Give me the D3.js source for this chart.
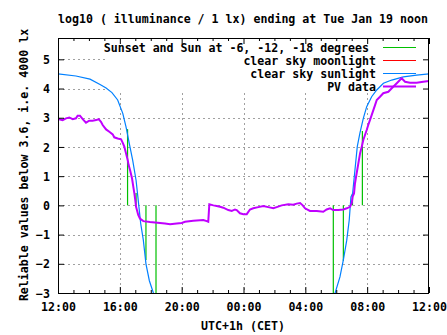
<!DOCTYPE html>
<html><head><meta charset="utf-8">
<script src="https://cdn.jsdelivr.net/npm/d3@7"></script>
<style>
body{margin:0;background:#fff}
svg{display:block}
text{font-family:"DejaVu Sans Mono","Liberation Mono",monospace;font-weight:bold;font-size:11.6px;fill:#000}
</style>
</head><body>
<svg id="c" width="447" height="335"></svg>
<script>
// ---- data (hours after 12:00 noon of the previous day) ----
const xTickHours = [0, 4, 8, 12, 16, 20, 24];
const xTickLabels = ["12:00", "16:00", "20:00", "00:00", "04:00", "08:00", "12:00"];
const yTicks = [-3, -2, -1, 0, 1, 2, 3, 4, 5];

// clear sky sunlight
const sunHours  = [0, 1.16, 2.07, 2.72, 3.11, 3.49, 3.86, 4.19, 4.40, 4.61, 4.83, 5.05, 5.14, 5.35, 5.52, 5.69, 5.91, 6.17, 6.40,
                   17.60, 17.92, 18.24, 18.46, 18.68, 18.84, 18.95, 19.06, 19.21, 19.36, 19.53, 19.75, 19.97, 20.29, 20.62, 21.05, 21.59, 22.34, 23.20, 24.0];
const sunValues = [4.50, 4.43, 4.32, 4.14, 4.02, 3.86, 3.61, 3.15, 2.69, 2.12, 1.55, 0.86, 0.42, -0.62, -1.19, -2.0, -2.58, -3.0, -3.6,
                   -3.7, -3.01, -2.45, -1.87, -1.19, -0.50, 0.29, 0.41, 1.21, 2.01, 2.47, 2.98, 3.38, 3.72, 3.95, 4.18, 4.29, 4.40, 4.46, 4.50];
// split between evening and morning (sun below range at night)
const sunBreakIndex = 19;

// clear sky moonlight (nothing inside the plotted range)
const moonHours = [];
const moonValues = [];

// sunset and sun at -6, -12, -18 degrees (impulses from 0)
const eventHours  = [4.50, 5.05, 5.69, 6.34, 17.81, 18.46, 19.05, 19.69];
const eventValues = [2.61, 0.42, -1.87, -3.5, -3.5, -1.90, 0.40, 2.55];

// PV data
const pvHours = [0.00, 0.08, 0.30, 0.52, 0.73, 0.95, 1.16, 1.27, 1.42, 1.60, 1.81, 2.02, 2.24, 2.46, 2.63, 2.78, 2.89, 3.11, 3.32, 3.54,
  3.64, 3.86, 4.08, 4.19, 4.29, 4.40, 4.51, 4.57, 4.66, 4.79, 4.87, 4.94, 5.00, 5.05, 5.19, 5.30, 5.52, 5.95, 6.60, 6.92,
  7.25, 7.68, 8.00, 8.22, 8.75, 9.40, 9.62, 9.72, 9.79, 10.05, 10.27, 10.48, 10.69, 11.02, 11.24, 11.45, 11.56, 11.77, 11.99, 12.21,
  12.42, 12.63, 12.96, 13.28, 13.60, 13.93, 14.15, 14.47, 14.90, 15.22, 15.44, 15.66, 15.83, 15.98, 16.30, 16.74, 17.16, 17.38, 17.60, 17.81,
  18.13, 18.46, 18.68, 18.89, 19.00, 19.06, 19.15, 19.21, 19.32, 19.43, 19.54, 19.65, 19.75, 19.86, 19.97, 20.07, 20.18, 20.29, 20.40, 20.51,
  20.62, 20.83, 21.04, 21.37, 21.59, 21.80, 22.01, 22.23, 22.45, 22.77, 23.20, 23.63, 24.00];
const pvValues = [2.97, 2.95, 2.92, 2.98, 3.01, 2.95, 2.98, 3.07, 3.07, 2.95, 2.83, 2.90, 2.90, 2.92, 2.95, 2.86, 2.75, 2.60, 2.52, 2.43,
  2.33, 2.29, 2.26, 2.14, 2.01, 1.78, 1.55, 1.38, 1.21, 0.92, 0.64, 0.41, 0.18, -0.05, -0.33, -0.45, -0.54, -0.57, -0.60, -0.62,
  -0.65, -0.62, -0.60, -0.56, -0.53, -0.50, -0.54, -0.56, 0.04, 0.00, -0.02, -0.05, -0.08, -0.16, -0.19, -0.14, -0.16, -0.27, -0.30, -0.30,
  -0.14, -0.10, -0.06, -0.02, -0.06, -0.10, -0.06, 0.00, 0.04, 0.02, 0.06, 0.08, 0.00, -0.10, -0.19, -0.19, -0.22, -0.14, -0.10, -0.16,
  -0.16, -0.14, -0.10, -0.05, 0.07, 0.30, 0.41, 0.75, 1.10, 1.44, 1.78, 2.01, 2.24, 2.41, 2.58, 2.75, 2.92, 3.09, 3.26, 3.43,
  3.61, 3.72, 3.84, 3.89, 4.01, 4.12, 4.23, 4.35, 4.23, 4.20, 4.20, 4.23, 4.26];

const legendLabels = ["Sunset and Sun at -6, -12, -18 degrees ", "clear sky moonlight", "clear sky sunlight", "PV data"];
const colors = {event: "#00c000", moon: "#ff0000", sun: "#0080ff", pv: "#c000ff"};

// ---- layout ----
const L = 58, R = 429, T = 38, B = 293;
const svg = d3.select("#c");
const x = d3.scaleLinear().domain([0, 24]).range([L, R]);
const y = d3.scaleLinear().domain([-3, 5.73]).range([B, T]);

// grid
const grid = svg.append("g").attr("stroke", "#a0a0a0").attr("stroke-width", 1).attr("stroke-dasharray", "2,3");
xTickHours.filter(h => h > 0 && h < 24).forEach(h => {
  grid.append("line").attr("x1", Math.round(x(h)) + 0.5).attr("x2", Math.round(x(h)) + 0.5).attr("y1", T).attr("y2", B);
});
yTicks.filter(v => v > -3).forEach(v => {
  grid.append("line").attr("y1", Math.round(y(v)) + 0.5).attr("y2", Math.round(y(v)) + 0.5).attr("x1", L).attr("x2", R);
});

// opaque key box
svg.append("rect").attr("x", 106).attr("y", T + 1).attr("width", R - 1 - 106).attr("height", 93 - T - 1).attr("fill", "#fff");

// clip
svg.append("clipPath").attr("id", "pc").append("rect").attr("x", L).attr("y", T).attr("width", R - L).attr("height", B - T);
const plot = svg.append("g").attr("clip-path", "url(#pc)");

// events (impulses)
plot.append("g").selectAll("line").data(eventHours).join("line")
  .attr("x1", h => x(h)).attr("x2", h => x(h))
  .attr("y1", y(0)).attr("y2", (h, i) => y(eventValues[i]))
  .attr("stroke", colors.event).attr("stroke-width", 1.2);

// sunlight
const line = d3.line().x(d => x(d[0])).y(d => y(d[1]));
const sunPts = sunHours.map((h, i) => [h, sunValues[i]]);
[sunPts.slice(0, sunBreakIndex), sunPts.slice(sunBreakIndex)].forEach(seg => {
  plot.append("path").attr("d", line(seg)).attr("fill", "none").attr("stroke", colors.sun).attr("stroke-width", 1.2);
});

// moonlight
if (moonHours.length) {
  plot.append("path").attr("d", line(moonHours.map((h, i) => [h, moonValues[i]])))
    .attr("fill", "none").attr("stroke", colors.moon).attr("stroke-width", 1.2);
}

// PV
plot.append("path").attr("d", line(pvHours.map((h, i) => [h, pvValues[i]])))
  .attr("fill", "none").attr("stroke", colors.pv).attr("stroke-width", 2);

// axes (ticks inward, mirrored)
const minorHours = d3.range(0, 25).filter(h => h % 4 !== 0);
function ticksX(sel, gen) { sel.call(gen); sel.select(".domain").remove(); sel.selectAll("line").attr("stroke", "#000"); }
const bx = svg.append("g").attr("transform", `translate(0,${B})`);
ticksX(bx, d3.axisBottom(x).tickValues(xTickHours).tickSizeInner(-6).tickSizeOuter(0).tickPadding(10)
  .tickFormat((d, i) => xTickLabels[i]));
bx.selectAll("text").attr("font-family", null).attr("font-size", null).attr("fill", "#000");
const bxm = svg.append("g").attr("transform", `translate(0,${B})`);
ticksX(bxm, d3.axisBottom(x).tickValues(minorHours).tickSizeInner(-3).tickSizeOuter(0).tickFormat(""));
const tx = svg.append("g").attr("transform", `translate(0,${T})`);
ticksX(tx, d3.axisTop(x).tickValues(xTickHours).tickSizeInner(-6).tickSizeOuter(0).tickFormat(""));
const txm = svg.append("g").attr("transform", `translate(0,${T})`);
ticksX(txm, d3.axisTop(x).tickValues(minorHours).tickSizeInner(-3).tickSizeOuter(0).tickFormat(""));

const ly = svg.append("g").attr("transform", `translate(${L},0)`);
ticksX(ly, d3.axisLeft(y).tickValues(yTicks).tickSizeInner(-6).tickSizeOuter(0).tickPadding(8).tickFormat(d3.format("d")));
ly.selectAll("text").attr("font-family", null).attr("font-size", null).attr("fill", "#000").attr("dy", "0.36em");
const ry = svg.append("g").attr("transform", `translate(${R},0)`);
ticksX(ry, d3.axisRight(y).tickValues(yTicks).tickSizeInner(-6).tickSizeOuter(0).tickFormat(""));

// border
svg.append("rect").attr("x", L + 0.5).attr("y", T + 0.5).attr("width", R - L - 1).attr("height", B - T)
  .attr("fill", "none").attr("stroke", "#000").attr("stroke-width", 1);

// key
const keyY = [52, 65, 78, 91];
const keyCol = [colors.event, colors.moon, colors.sun, colors.pv];
const keyW = [1.2, 1.2, 1.2, 2];
legendLabels.forEach((t, i) => {
  svg.append("text").attr("x", 376).attr("y", keyY[i]).attr("text-anchor", "end").attr("xml:space", "preserve").text(t);
  svg.append("line").attr("x1", 383).attr("x2", 416).attr("y1", keyY[i] - 4.5).attr("y2", keyY[i] - 4.5)
    .attr("stroke", keyCol[i]).attr("stroke-width", keyW[i]);
});

// titles
svg.append("text").attr("x", 243).attr("y", 23).attr("text-anchor", "middle")
  .text("log10 ( illuminance / 1 lx) ending at Tue Jan 19 noon");
svg.append("text").attr("x", 243).attr("y", 330).attr("text-anchor", "middle").text("UTC+1h (CET)");
svg.append("text").attr("transform", "translate(28,165) rotate(-90)").attr("text-anchor", "middle")
  .text("Reliable values below 3.6, i.e. 4000 lx");
</script>
</body></html>
